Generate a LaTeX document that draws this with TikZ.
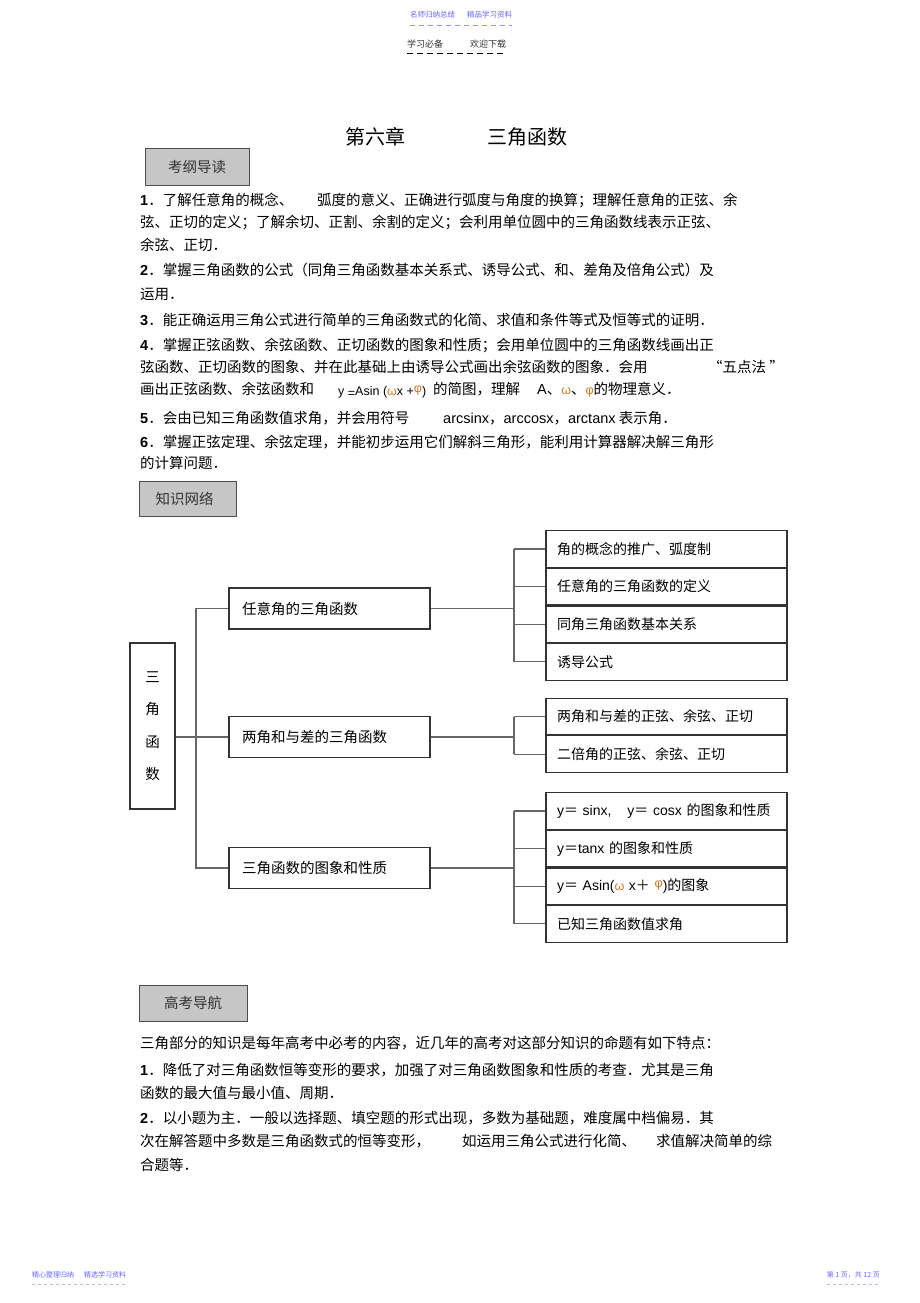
\documentclass[tikz,border=0pt]{standalone}
\usepackage{fontspec}
\setmainfont{Noto Sans CJK SC}
\newfontfamily\arial{Liberation Sans}
\usetikzlibrary{positioning}

\definecolor{hdrblue}{RGB}{100,100,250}
\definecolor{boxgray}{RGB}{198,198,198}
\definecolor{greekc}{RGB}{205,120,40}

\newcommand{\itemno}[1]{{\arial\bfseries #1}}
\newcommand{\arl}[1]{{\arial #1}}
\newcommand{\hgap}[1]{\hspace*{#1pt}}
\newcommand{\bodysize}{\fontsize{14.5}{17}\selectfont}
\newcommand{\grk}[1]{\textcolor{greekc}{\fontsize{12.5}{14}\selectfont\arial #1}}

\begin{document}
\begin{tikzpicture}[x=1pt,y=-1pt]

  \tikzset{
    ln/.style={anchor=base west,inner sep=0pt,yshift=-5.5pt,font=\bodysize},
    secbox/.style={draw=black!70,fill=boxgray,line width=1pt,inner sep=0pt,
      text=black!80,font=\bodysize},
    midbox/.style={draw=black!80,line width=1.1pt,minimum height=41pt,
      text width=175pt,inner xsep=13pt,align=left,font=\bodysize},
    subbox/.style={draw=black!80,line width=1.1pt,minimum height=36.5pt,
      text width=219pt,inner xsep=11pt,align=left,font=\fontsize{14}{16}\selectfont},
    link/.style={draw=black!60,line width=1.2pt},
  }

  \useasboundingbox (0,0) rectangle (920,1303);

  % header and footer
  \node[font=\fontsize{7.5}{9}\selectfont,text=hdrblue,inner sep=0pt] (hd1) at (461,15)
    {名师归纳总结\hgap{12}精品学习资料};
  \draw[hdrblue!70,dashed,dash pattern=on 5pt off 4pt,line width=0.8pt]
    (hd1.south west) ++(0,7) coordinate (hd1a) -- (hd1a -| hd1.south east);
  \node[font=\fontsize{9}{11}\selectfont,text=black!80,anchor=west,inner sep=0pt] (hd2) at (407,44)
    {学习必备\hgap{27}欢迎下载};
  \draw[black,dashed,dash pattern=on 6pt off 4pt,line width=1pt]
    (hd2.south west) ++(0,5) coordinate (hd2a) -- (hd2a -| hd2.south east);

  \node[font=\fontsize{7}{9}\selectfont,text=hdrblue,anchor=west,inner sep=0pt] (ft1) at (32,1275)
    {精心整理归纳\hgap{10}精选学习资料};
  \draw[hdrblue!45,dashed,dash pattern=on 3pt off 3pt,line width=0.8pt]
    (ft1.south west) ++(0,6) coordinate (ft1a) -- (ft1a -| ft1.south east);
  \node[font=\fontsize{7}{9}\selectfont,text=hdrblue,anchor=east,inner sep=0pt] (ft2) at (880,1275)
    {第 1 页，共 12 页};
  \draw[hdrblue!45,dashed,dash pattern=on 3pt off 3pt,line width=0.8pt]
    (ft2.south west) ++(0,6) coordinate (ft2a) -- (ft2a -| ft2.south east);

  % title
  \node[anchor=west,inner sep=0pt,font=\fontsize{20}{24}\selectfont] (title) at (345,137)
    {第六章\hgap{82}三角函数};

  \node[secbox,minimum width=104pt,minimum height=37pt] (kgdd) at (197,167) {考纲导读};

  \node[ln] (a1) at (140,200) {\itemno{1}．了解任意角的概念、};
  \node[ln] (a1b) at (317,200) {弧度的意义、正确进行弧度与角度的换算；理解任意角的正弦、余};
  \node[ln] (a2) at (140,222) {弦、正切的定义；了解余切、正割、余割的定义；会利用单位圆中的三角函数线表示正弦、};
  \node[ln] (a3) at (140,245) {余弦、正切．};
  \node[ln] (a4) at (140,270) {\itemno{2}．掌握三角函数的公式（同角三角函数基本关系式、诱导公式、和、差角及倍角公式）及};
  \node[ln] (a5) at (140,294) {运用．};
  \node[ln] (a6) at (140,320) {\itemno{3}．能正确运用三角公式进行简单的三角函数式的化简、求值和条件等式及恒等式的证明．};
  \node[ln] (a7) at (140,345) {\itemno{4}．掌握正弦函数、余弦函数、正切函数的图象和性质；会用单位圆中的三角函数线画出正};
  \node[ln] (a8) at (140,367) {弦函数、正切函数的图象、并在此基础上由诱导公式画出余弦函数的图象．会用};
  \node[ln] (a8b) at (708,367) {“五点法 ”};
  \node[ln] (a9) at (140,389) {画出正弦函数、余弦函数和};
  \node[ln,font=\fontsize{12.5}{14}\selectfont\arial] (a9b) at (338,390)
    {y \raisebox{-2pt}{=}Asin (\textcolor{greekc}{ω}x +\raisebox{3pt}{\textcolor{greekc}{φ}})};
  \node[ln] (a9c) at (433,389) {的简图，理解};
  \node[ln] (a9d) at (537,389) {\arl{A}、\grk{ω}、\grk{φ}的物理意义．};
  \node[ln] (a10) at (140,418) {\itemno{5}．会由已知三角函数值求角，并会用符号};
  \node[ln] (a10b) at (443,418) {\arl{arcsinx}，\arl{arccosx}，\arl{arctanx} 表示角．};
  \node[ln] (a11) at (140,442) {\itemno{6}．掌握正弦定理、余弦定理，并能初步运用它们解斜三角形，能利用计算器解决解三角形};
  \node[ln] (a12) at (140,463) {的计算问题．};

  \node[secbox,minimum width=97pt,minimum height=35pt] (zswl) at (187.5,498.5) {知识网络\hgap{6}};

  % knowledge network
  \node[draw=black!80,line width=1.1pt,minimum width=45pt,minimum height=166pt,
    align=center,font=\fontsize{14.5}{32.5}\selectfont] (root) at (152.5,726) {三\\角\\函\\数};

  \node[midbox] (mid1) at (329.5,608.5) {任意角的三角函数};
  \node[midbox] (mid2) at (329.5,737) {两角和与差的三角函数};
  \node[midbox] (mid3) at (329.5,868) {三角函数的图象和性质};

  \node[subbox] (r11) at (666.5,549) {角的概念的推广、弧度制};
  \node[subbox] (r12) [below=0pt of r11] {任意角的三角函数的定义};
  \node[subbox] (r13) [below=0pt of r12] {同角三角函数基本关系};
  \node[subbox] (r14) [below=0pt of r13] {诱导公式};

  \node[subbox] (r21) at (666.5,716.5) {两角和与差的正弦、余弦、正切};
  \node[subbox] (r22) [below=0pt of r21] {二倍角的正弦、余弦、正切};

  \node[subbox] (r31) at (666.5,811) {\arl{y}＝ \arl{sinx,}\hgap{16}\arl{y}＝ \arl{cosx} 的图象和性质};
  \node[subbox] (r32) [below=0pt of r31] {\arl{y}＝\arl{tanx} 的图象和性质};
  \node[subbox] (r33) [below=0pt of r32]
    {\arl{y}＝ \arl{Asin(}\grk{ω} \arl{x}＋ \raisebox{3pt}{\grk{φ}}\arl{)}的图象};
  \node[subbox] (r34) [below=0pt of r33] {已知三角函数值求角};

  \coordinate (j0) at (196,0);
  \coordinate (j1) at (514,0);

  \draw[link] (mid1.west) -| (j0 |- mid3.west) -- (mid3.west);
  \draw[link] (root.east |- mid2.west) -- (mid2.west);

  \foreach \m/\a/\b in {mid1/r11/r14, mid2/r21/r22, mid3/r31/r34} {
    \draw[link] (\m.east) -- (j1 |- \m.east);
    \draw[link] (j1 |- \a.west) -- (j1 |- \b.west);
  }
  \foreach \r in {r11,r12,r13,r14,r21,r22,r31,r32,r33,r34}
    \draw[link] (\r.west) -- (j1 |- \r.west);

  \node[secbox,minimum width=108pt,minimum height=36pt] (gkdh) at (193,1003) {高考导航};

  \node[ln] (b1) at (140,1043) {三角部分的知识是每年高考中必考的内容，近几年的高考对这部分知识的命题有如下特点：};
  \node[ln] (b2) at (140,1070) {\itemno{1}．降低了对三角函数恒等变形的要求，加强了对三角函数图象和性质的考查．尤其是三角};
  \node[ln] (b3) at (140,1093) {函数的最大值与最小值、周期．};
  \node[ln] (b4) at (140,1118) {\itemno{2}．以小题为主．一般以选择题、填空题的形式出现，多数为基础题，难度属中档偏易．其};
  \node[ln] (b5) at (140,1141) {次在解答题中多数是三角函数式的恒等变形，};
  \node[ln] (b5b) at (462,1141) {如运用三角公式进行化简、};
  \node[ln] (b5c) at (656,1141) {求值解决简单的综};
  \node[ln] (b6) at (140,1165) {合题等．};

\end{tikzpicture}
\end{document}
